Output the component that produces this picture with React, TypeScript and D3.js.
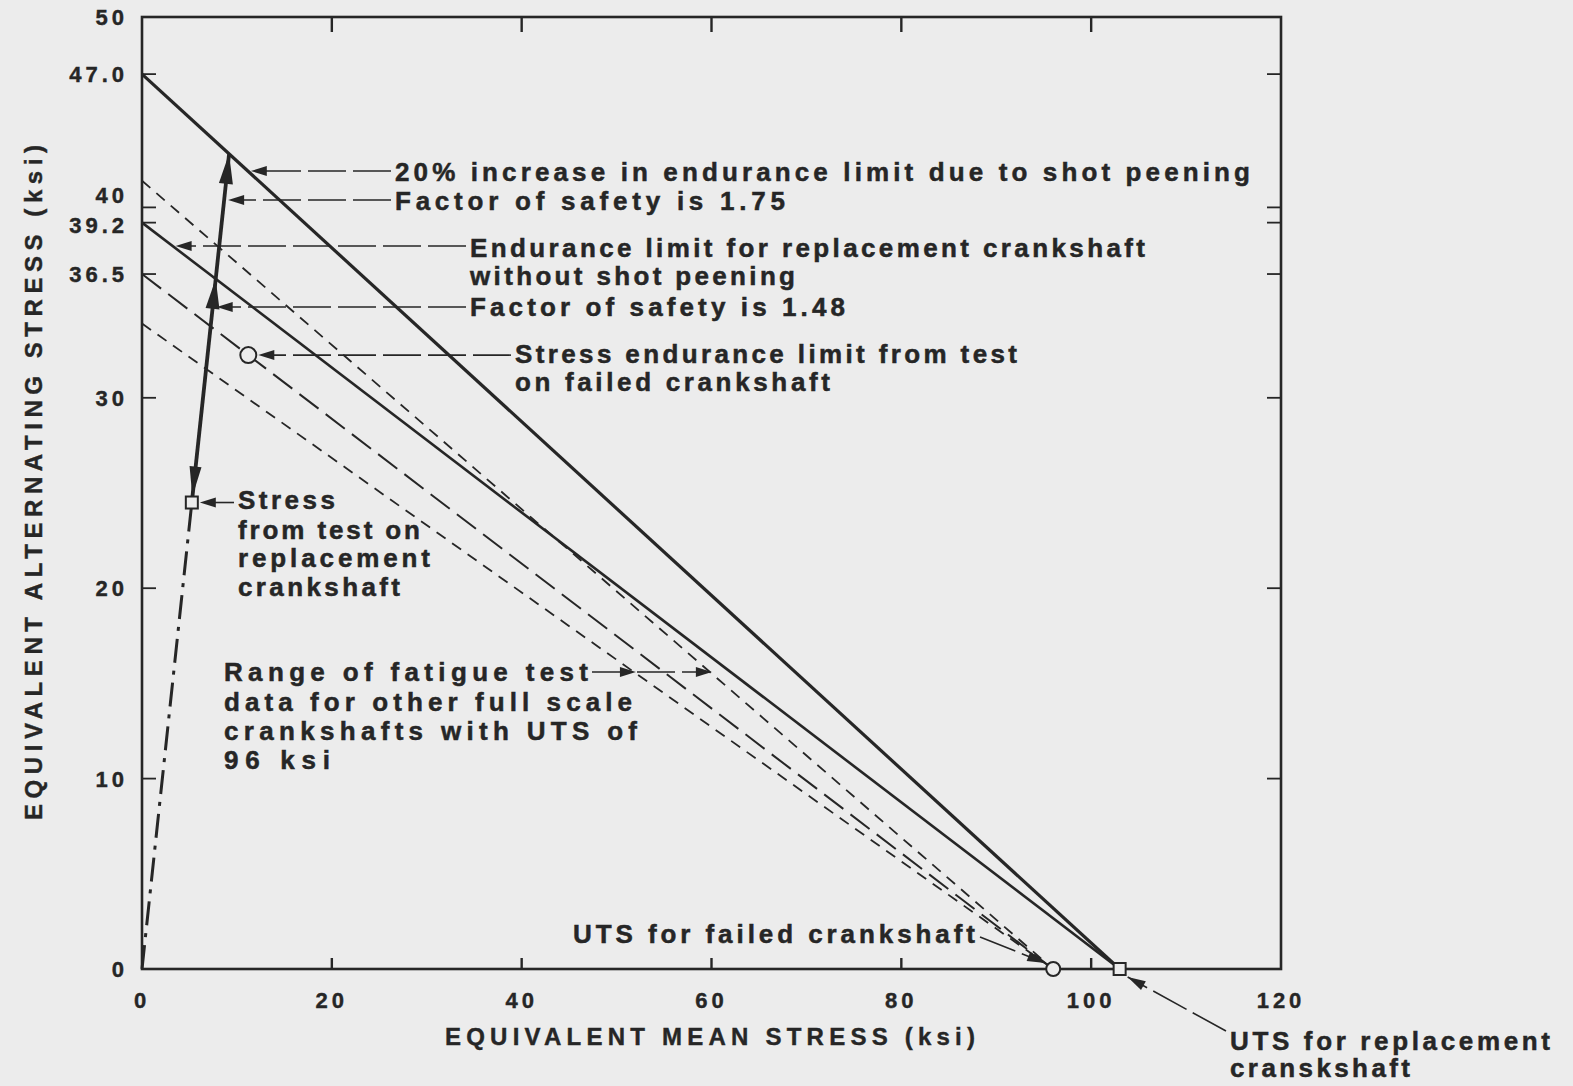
import React from 'react';
import * as d3 from 'd3';

// ---------- data ----------
const xTickValues = [0, 20, 40, 60, 80, 100, 120];
const xInnerTicks = [20, 40, 60, 80, 100];
const yTickValues = [0, 10, 20, 30, 36.5, 39.2, 40, 47.0, 50];
const yTickLabels = ['0', '10', '20', '30', '36.5', '39.2', '40', '47.0', '50'];
const yInnerTicks = [10, 20, 30, 36.5, 39.2, 40, 47.0];

const lineNames = ['shotPeened', 'replacement', 'failedTest', 'rangeUpper', 'rangeLower'];
const lineIntercepts = [47.0, 39.2, 36.5, 41.4, 33.9];
const lineUTS = [103, 103, 96, 96, 96];

const replacementTestPoint = [5.25, 24.5];
const failedTestMean = 11.2;
const utsFailed = 96;
const utsReplacement = 103;

const xTitle = 'EQUIVALENT MEAN STRESS (ksi)';
const yTitle = 'EQUIVALENT ALTERNATING STRESS (ksi)';

// ---------- styles / layout ----------
const W = 1573;
const H = 1086;
const INK = '#262626';
const BG = '#ececec';
const FONT = '"Liberation Sans", Arial, Helvetica, sans-serif';

const lineStyles: Record<string, { w: number; dash?: string }> = {
  shotPeened: { w: 3.2 },
  replacement: { w: 2.6 },
  failedTest: { w: 2, dash: '24 9' },
  rangeUpper: { w: 1.8, dash: '11 8' },
  rangeLower: { w: 1.8, dash: '11 8' },
};

const x = d3.scaleLinear().domain([0, 120]).range([142, 1281]);
const y = d3.scaleLinear().domain([0, 50]).range([969, 17]);

const lineAt = (i: number, xv: number) => lineIntercepts[i] * (1 - xv / lineUTS[i]);
const xAtStress = (i: number, sv: number) => lineUTS[i] * (1 - sv / lineIntercepts[i]);
const loadSlope = replacementTestPoint[1] / replacementTestPoint[0];
const loadIntersect = (i: number) => lineIntercepts[i] / (loadSlope + lineIntercepts[i] / lineUTS[i]);

function arrowHead(tx: number, ty: number, fromX: number, fromY: number, len = 16, half = 5) {
  const a = Math.atan2(ty - fromY, tx - fromX);
  const bx = tx - len * Math.cos(a);
  const by = ty - len * Math.sin(a);
  const px = -Math.sin(a) * half;
  const py = Math.cos(a) * half;
  return `${tx},${ty} ${bx + px},${by + py} ${bx - px},${by - py}`;
}

type Txt = { t: string; x: number; y: number; w: number };

function Label({ t, x: tx, y: ty, w, size = 26 }: Txt & { size?: number }) {
  return (
    <text x={tx} y={ty} fontSize={size} fontWeight="bold" fontFamily={FONT} fill={INK}
      stroke={INK} strokeWidth={0.5} textLength={w} lengthAdjust="spacing">{t}</text>
  );
}

export default function App() {
  const line = d3.line<[number, number]>().x(d => x(d[0])).y(d => y(d[1]));

  const iA = 0, iB = 1, iC = 2, iU = 3, iL = 4;
  const sq = replacementTestPoint;
  const xA = loadIntersect(iA);
  const xB = loadIntersect(iB);
  const failedPt: [number, number] = [failedTestMean, lineAt(iC, failedTestMean)];

  const leaderDash = '38 7';
  const leaders: { x1: number; y1: number; x2: number; y2: number }[] = [];
  const heads: string[] = [];

  const addH = (x1: number, x2: number, yy: number) => {
    leaders.push({ x1, y1: yy, x2: x2 + 14, y2: yy });
    heads.push(arrowHead(x2, yy, x1, yy));
  };
  { const yy = 171; addH(391, x(xAtStress(iA, y.invert(yy))) + 3, yy); }
  { const yy = 200; addH(391, x(y.invert(yy) / loadSlope) + 4, yy); }
  { const yy = 246; addH(466, x(xAtStress(iB, y.invert(yy))) + 3, yy); }
  { const yy = 307; addH(466, x(y.invert(yy) / loadSlope) + 4, yy); }
  { const yy = y(failedPt[1]); addH(511, x(failedPt[0]) + 10, yy); }
  { const yy = y(sq[1]); addH(234, x(sq[0]) + 8, yy); }

  const rangeY = 672;
  const rL = x(xAtStress(iL, y.invert(rangeY)));
  const rU = x(xAtStress(iU, y.invert(rangeY)));
  leaders.push({ x1: 592, y1: rangeY, x2: rU, y2: rangeY });
  heads.push(arrowHead(rL + 2, rangeY, 592, rangeY));
  heads.push(arrowHead(rU + 2, rangeY, 592, rangeY));

  const cF = [x(utsFailed), y(0)];
  leaders.push({ x1: 980, y1: 937, x2: cF[0] - 8, y2: cF[1] - 6 });
  heads.push(arrowHead(cF[0] - 8, cF[1] - 6, 980, 937, 18, 5));

  const sR = [x(utsReplacement), y(0)];
  leaders.push({ x1: 1226, y1: 1031, x2: sR[0] + 8, y2: sR[1] + 8 });
  heads.push(arrowHead(sR[0] + 8, sR[1] + 8, 1226, 1031, 18, 5));

  const loadTop: [number, number] = [xA, loadSlope * xA];
  const loadMid: [number, number] = [xB, loadSlope * xB];
  const sqTop = y(sq[1]) - 6;

  const texts: (Txt & { size?: number })[] = [
    { t: '20% increase in endurance limit due to shot peening', x: 395, y: 181, w: 855 },
    { t: 'Factor of safety is 1.75', x: 395, y: 210, w: 390 },
    { t: 'Endurance limit for replacement crankshaft', x: 470, y: 257, w: 675 },
    { t: 'without shot peening', x: 470, y: 285, w: 325 },
    { t: 'Factor of safety is 1.48', x: 470, y: 316, w: 375 },
    { t: 'Stress endurance limit from test', x: 515, y: 363, w: 502 },
    { t: 'on failed crankshaft', x: 515, y: 391, w: 315 },
    { t: 'Stress', x: 238, y: 509, w: 97 },
    { t: 'from test on', x: 238, y: 539, w: 182 },
    { t: 'replacement', x: 238, y: 567, w: 192 },
    { t: 'crankshaft', x: 238, y: 596, w: 162 },
    { t: 'Range of fatigue test', x: 224, y: 681, w: 364 },
    { t: 'data for other full scale', x: 224, y: 711, w: 408 },
    { t: 'crankshafts with UTS of', x: 224, y: 740, w: 413 },
    { t: '96 ksi', x: 224, y: 769, w: 106 },
    { t: 'UTS for failed crankshaft', x: 573, y: 943, w: 402 },
    { t: 'UTS for replacement', x: 1230, y: 1050, w: 320 },
    { t: 'cranskshaft', x: 1230, y: 1077, w: 180 },
  ];

  const tickFont = { fontSize: 22, fontWeight: 'bold' as const, fontFamily: FONT, fill: INK, stroke: INK, strokeWidth: 0.4 };
  const yLabelShift = (v: number) => (v === 40 ? -12 : v === 39.2 ? 2 : 0);

  return (
    <svg width={W} height={H} style={{ position: 'fixed', left: 0, top: 0, background: BG }}>
      <rect x={0} y={0} width={W} height={H} fill={BG} />

      <rect x={x(0)} y={y(50)} width={x(120) - x(0)} height={y(0) - y(50)}
        fill="none" stroke={INK} strokeWidth={2.6} />

      {xInnerTicks.map(v => (
        <g key={'xt' + v}>
          <line x1={x(v)} x2={x(v)} y1={y(0)} y2={y(0) - 11} stroke={INK} strokeWidth={2.4} />
          <line x1={x(v)} x2={x(v)} y1={y(50)} y2={y(50) + 15} stroke={INK} strokeWidth={2.4} />
        </g>
      ))}
      {yInnerTicks.map(v => (
        <g key={'yt' + v}>
          <line x1={x(0)} x2={x(0) + 14} y1={y(v)} y2={y(v)} stroke={INK} strokeWidth={1.8} />
          <line x1={x(120)} x2={x(120) - 14} y1={y(v)} y2={y(v)} stroke={INK} strokeWidth={1.8} />
        </g>
      ))}

      {xTickValues.map(v => (
        <text key={'xl' + v} x={x(v)} y={1008} textAnchor="middle" letterSpacing={4} {...tickFont}>{v}</text>
      ))}
      {yTickValues.map((v, i) => (
        <text key={'yl' + v} x={128} y={y(v) + 8 + yLabelShift(v)} textAnchor="end"
          letterSpacing={4} {...tickFont}>{yTickLabels[i]}</text>
      ))}

      <text x={445} y={1045} fontSize={24} fontWeight="bold" fontFamily={FONT} fill={INK} stroke={INK}
        strokeWidth={0.4} textLength={530} lengthAdjust="spacing">{xTitle}</text>
      <text transform="translate(42,820) rotate(-90)" x={0} y={0} fontSize={24} fontWeight="bold"
        fontFamily={FONT} fill={INK} stroke={INK} strokeWidth={0.4} textLength={675}
        lengthAdjust="spacing">{yTitle}</text>

      {lineNames.map((n, i) => (
        <path key={n} d={line([[0, lineIntercepts[i]], [lineUTS[i], 0]]) || ''}
          fill="none" stroke={INK} strokeWidth={lineStyles[n].w}
          strokeDasharray={lineStyles[n].dash} />
      ))}

      <path d={line([[0, 0], [sq[0], sq[1]]]) || ''} fill="none" stroke={INK}
        strokeWidth={3} strokeDasharray="24 8 4 8" />

      <path d={line([[sq[0], sq[1]], loadTop]) || ''} fill="none" stroke={INK} strokeWidth={3.8} />
      <polygon points={arrowHead(x(loadTop[0]), y(loadTop[1]), x(sq[0]), y(sq[1]), 30, 7)} fill={INK} />
      <polygon points={arrowHead(x(loadMid[0]), y(loadMid[1]), x(sq[0]), y(sq[1]), 30, 7)} fill={INK} />
      <polygon points={arrowHead(x(sq[0]) + 0.5, sqTop, x(loadTop[0]), y(loadTop[1]), 30, 6)} fill={INK} />

      {leaders.map((l, i) => (
        <line key={'ld' + i} x1={l.x1} y1={l.y1} x2={l.x2} y2={l.y2} stroke={INK}
          strokeWidth={1.6} strokeDasharray={leaderDash} />
      ))}
      {heads.map((h, i) => <polygon key={'hd' + i} points={h} fill={INK} />)}

      <rect x={x(sq[0]) - 6} y={y(sq[1]) - 6} width={12} height={12} fill={BG} stroke={INK} strokeWidth={2} />
      <circle cx={x(failedPt[0])} cy={y(failedPt[1])} r={8} fill={BG} stroke={INK} strokeWidth={2} />
      <circle cx={x(utsFailed)} cy={y(0)} r={7} fill={BG} stroke={INK} strokeWidth={2} />
      <rect x={x(utsReplacement) - 6} y={y(0) - 6} width={12} height={12} fill={BG} stroke={INK} strokeWidth={2} />

      {texts.map((t, i) => <Label key={'tx' + i} {...t} />)}
    </svg>
  );
}
